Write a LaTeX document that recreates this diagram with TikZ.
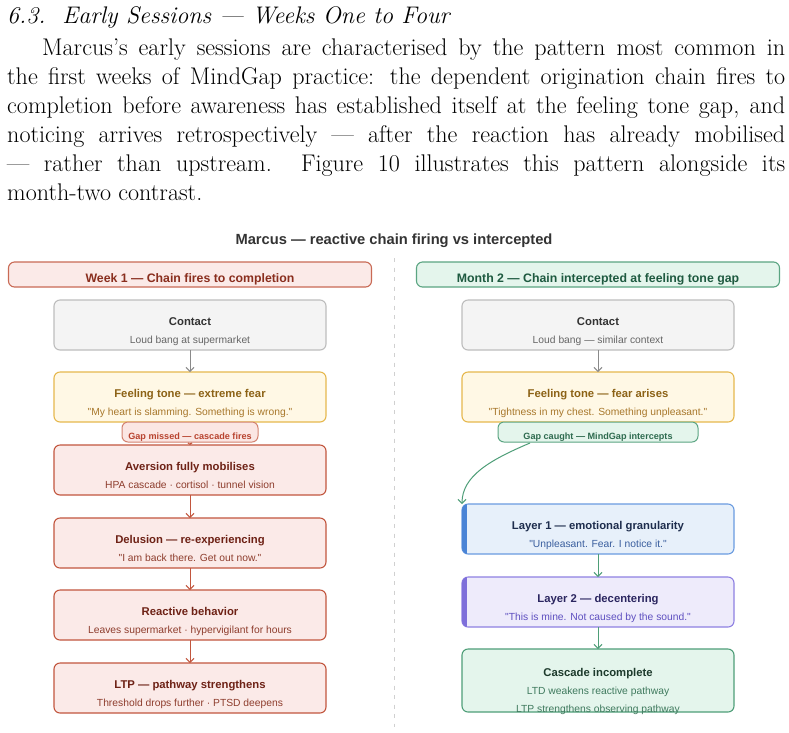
\documentclass[tikz,border=0pt]{standalone}
\usepackage{fontspec}
\newfontfamily\dsans{Liberation Sans}
\usetikzlibrary{arrows.meta}
\definecolor{gyF}{HTML}{F4F4F4}\definecolor{gyD}{HTML}{BDBDBD}\definecolor{gyT}{HTML}{333333}\definecolor{gyS}{HTML}{666666}\definecolor{gyA}{HTML}{8A8A8A}
\definecolor{goF}{HTML}{FFF8E5}\definecolor{goD}{HTML}{E6B84E}\definecolor{goT}{HTML}{8C6216}\definecolor{goS}{HTML}{A8782C}
\definecolor{rdF}{HTML}{FBEAE8}\definecolor{rdD}{HTML}{C2563E}\definecolor{rdT}{HTML}{6E2216}\definecolor{rdS}{HTML}{8E3D2D}
\definecolor{rhD}{HTML}{C96A55}\definecolor{rhT}{HTML}{8A2E1E}
\definecolor{rpF}{HTML}{FBE6E3}\definecolor{rpD}{HTML}{D3826F}\definecolor{rpT}{HTML}{B8432F}
\definecolor{grF}{HTML}{E4F5EC}\definecolor{grD}{HTML}{5BA582}\definecolor{grT}{HTML}{1E5A40}\definecolor{grP}{HTML}{2E6B4F}
\definecolor{grA}{HTML}{4E9E78}\definecolor{grC}{HTML}{1D3A2C}\definecolor{grS}{HTML}{3F7A5E}
\definecolor{blF}{HTML}{E7F0FA}\definecolor{blD}{HTML}{6A9BE0}\definecolor{blA}{HTML}{4A84D6}\definecolor{blT}{HTML}{1E2D4D}\definecolor{blS}{HTML}{3A5E9E}
\definecolor{puF}{HTML}{EEEBFB}\definecolor{puD}{HTML}{8E80E2}\definecolor{puA}{HTML}{7E6FDA}\definecolor{puT}{HTML}{2B2660}\definecolor{puS}{HTML}{5E4FC0}
\definecolor{dvC}{HTML}{D0D0D0}
\newcommand\cbx[6]{%
  \node[box, #4box] (#1) at (#2,#3+25) {};
  \node[ttl, #4ttl] (#1t) at (#2,#3+25) {#5};
  \node[sub, #4sub] (#1s) at (#2,#3+43) {#6};}
\begin{document}
\begin{tikzpicture}[x=1pt,y=-1pt,
  box/.style={rounded corners=6pt, line width=1.1pt, minimum width=272pt, minimum height=50pt, inner sep=0pt, outer sep=0pt},
  ttl/.style={font=\dsans\bfseries\fontsize{11.3}{13}\selectfont, anchor=base, inner sep=0pt},
  sub/.style={font=\dsans\fontsize{10.3}{12}\selectfont, anchor=base, inner sep=0pt},
  graybox/.style={fill=gyF, draw=gyD}, grayttl/.style={text=gyT}, graysub/.style={text=gyS},
  goldbox/.style={fill=goF, draw=goD}, goldttl/.style={text=goT}, goldsub/.style={text=goS},
  redbox/.style={fill=rdF, draw=rdD}, redttl/.style={text=rdT}, redsub/.style={text=rdS},
  bluebox/.style={fill=blF, draw=blD}, bluettl/.style={text=blT}, bluesub/.style={text=blS},
  purpbox/.style={fill=puF, draw=puD}, purpttl/.style={text=puT}, purpsub/.style={text=puS},
  hdr/.style={rounded corners=6pt, line width=1.1pt, minimum width=363pt, minimum height=25pt, inner sep=0pt},
  hdrtxt/.style={anchor=base, inner sep=0pt, font=\dsans\bfseries\fontsize{12.3}{14}\selectfont},
  pill/.style={rounded corners=6pt, line width=1pt, minimum height=20pt, inner sep=0pt},
  pilltxt/.style={anchor=base, inner sep=0pt, font=\dsans\bfseries\fontsize{9.1}{11}\selectfont},
  arr/.style={line width=1pt, -{Straight Barb[length=4pt,width=8pt]}},
  para/.style={anchor=base west, inner sep=0pt, font=\fontsize{24.1}{29}\selectfont}]
\useasboundingbox (0,0) rectangle (789,732);
\fill[white] (0,0) rectangle (789,732);
% text above
\node[para, font=\fontsize{24}{29}\selectfont\itshape] (hd) at (7,23) {6.3.\ \ Early Sessions --- Weeks One to Four};
\node[para] (l1) at (42,55) {\hbox to 743pt{Marcus's early sessions are characterised by the pattern most common in}};
\node[para] (l2) at (7,84) {\hbox to 778pt{the first weeks of MindGap practice: the dependent origination chain fires to}};
\node[para] (l3) at (7,113) {\hbox to 778pt{completion before awareness has established itself at the feeling tone gap, and}};
\node[para] (l4) at (7,142) {\hbox to 778pt{noticing arrives retrospectively --- after the reaction has already mobilised}};
\node[para] (l5) at (7,171) {\hbox to 778pt{--- rather than upstream.\ \ Figure 10 illustrates this pattern alongside its}};
\node[para] (l6) at (7,200) {month-two contrast.};
% title
\node[font=\dsans\bfseries\fontsize{14.7}{17}\selectfont, text=gyT, inner sep=0pt] (mt) at (394,241) {Marcus — reactive chain firing vs intercepted};
% divider
\coordinate (dvt) at (394,258); \coordinate (dvb) at (394,727);
\draw[dvC, line width=1pt, dash pattern=on 4pt off 5.5pt] (dvt) -- (dvb);
% headers
\node[hdr, fill=rdF, draw=rhD] (hl) at (190,274.5) {};
\node[hdrtxt, text=rhT] (hlt) at (190,282.2) {Week 1 — Chain fires to completion};
\node[hdr, fill=grF, draw=grD] (hr) at (598,274.5) {};
\node[hdrtxt, text=grT] (hrt) at (598,282.2) {Month 2 — Chain intercepted at feeling tone gap};
% left column
\cbx{lc}{190}{300}{gray}{Contact}{Loud bang at supermarket}
\cbx{lf}{190}{372}{gold}{Feeling tone — extreme fear}{"My heart is slamming. Something is wrong."}
\cbx{la}{190}{445}{red}{Aversion fully mobilises}{HPA cascade · cortisol · tunnel vision}
\cbx{ld}{190}{518}{red}{Delusion — re-experiencing}{"I am back there. Get out now."}
\cbx{lr}{190}{590}{red}{Reactive behavior}{Leaves supermarket · hypervigilant for hours}
\cbx{ll}{190}{663}{red}{LTP — pathway strengthens}{Threshold drops further · PTSD deepens}
\node[pill, fill=rpF, draw=rpD, minimum width=136pt] (lp) at (190,432) {};
\node[pilltxt, text=rpT] (lpt) at (190,439.3) {Gap missed — cascade fires};
\draw[arr, gyA] (lc) -- (lf);
\draw[arr, rdD, -{Straight Barb[length=1.5pt,width=4pt]}] (lp) -- (la);
\draw[arr, rdD] (la) -- (ld);
\draw[arr, rdD] (ld) -- (lr);
\draw[arr, rdD] (lr) -- (ll);
% right column
\cbx{rc}{598}{300}{gray}{Contact}{Loud bang — similar context}
\cbx{rf}{598}{372}{gold}{Feeling tone — fear arises}{"Tightness in my chest. Something unpleasant."}
\cbx{r1}{598}{504}{blue}{Layer 1 — emotional granularity}{"Unpleasant. Fear. I notice it."}
\cbx{r2}{598}{577}{purp}{Layer 2 — decentering}{"This is mine. Not caused by the sound."}
\node[box, fill=grF, draw=grA, minimum height=63pt] (rk) at (598,680.5) {};
\node[ttl, text=grC] (rkt) at (598,676) {Cascade incomplete};
\node[sub, text=grS] (rks1) at (598,694) {LTD weakens reactive pathway};
\node[sub, text=grS] (rks2) at (598,712) {LTP strengthens observing pathway};
\begin{scope}
\clip[rounded corners=6pt] (r1.north west) rectangle (r1.south east);
\fill[blA] (r1.north west) rectangle ([xshift=5pt]r1.south west);
\end{scope}
\begin{scope}
\clip[rounded corners=6pt] (r2.north west) rectangle (r2.south east);
\fill[puA] (r2.north west) rectangle ([xshift=5pt]r2.south west);
\end{scope}
\node[pill, fill=grF, draw=grD, minimum width=200pt] (rp) at (598,432) {};
\node[pilltxt, text=grP] (rpt) at (598,439.3) {Gap caught — MindGap intercepts};
\draw[arr, gyA] (rc) -- (rf);
\coordinate (cs) at (530,443);
\draw[arr, grA] (cs) .. controls (490,460) and (462,476) .. (r1.north west);
\draw[arr, grA] (r1) -- (r2);
\draw[arr, grA] (r2) -- (rk);
\end{tikzpicture}
\end{document}
